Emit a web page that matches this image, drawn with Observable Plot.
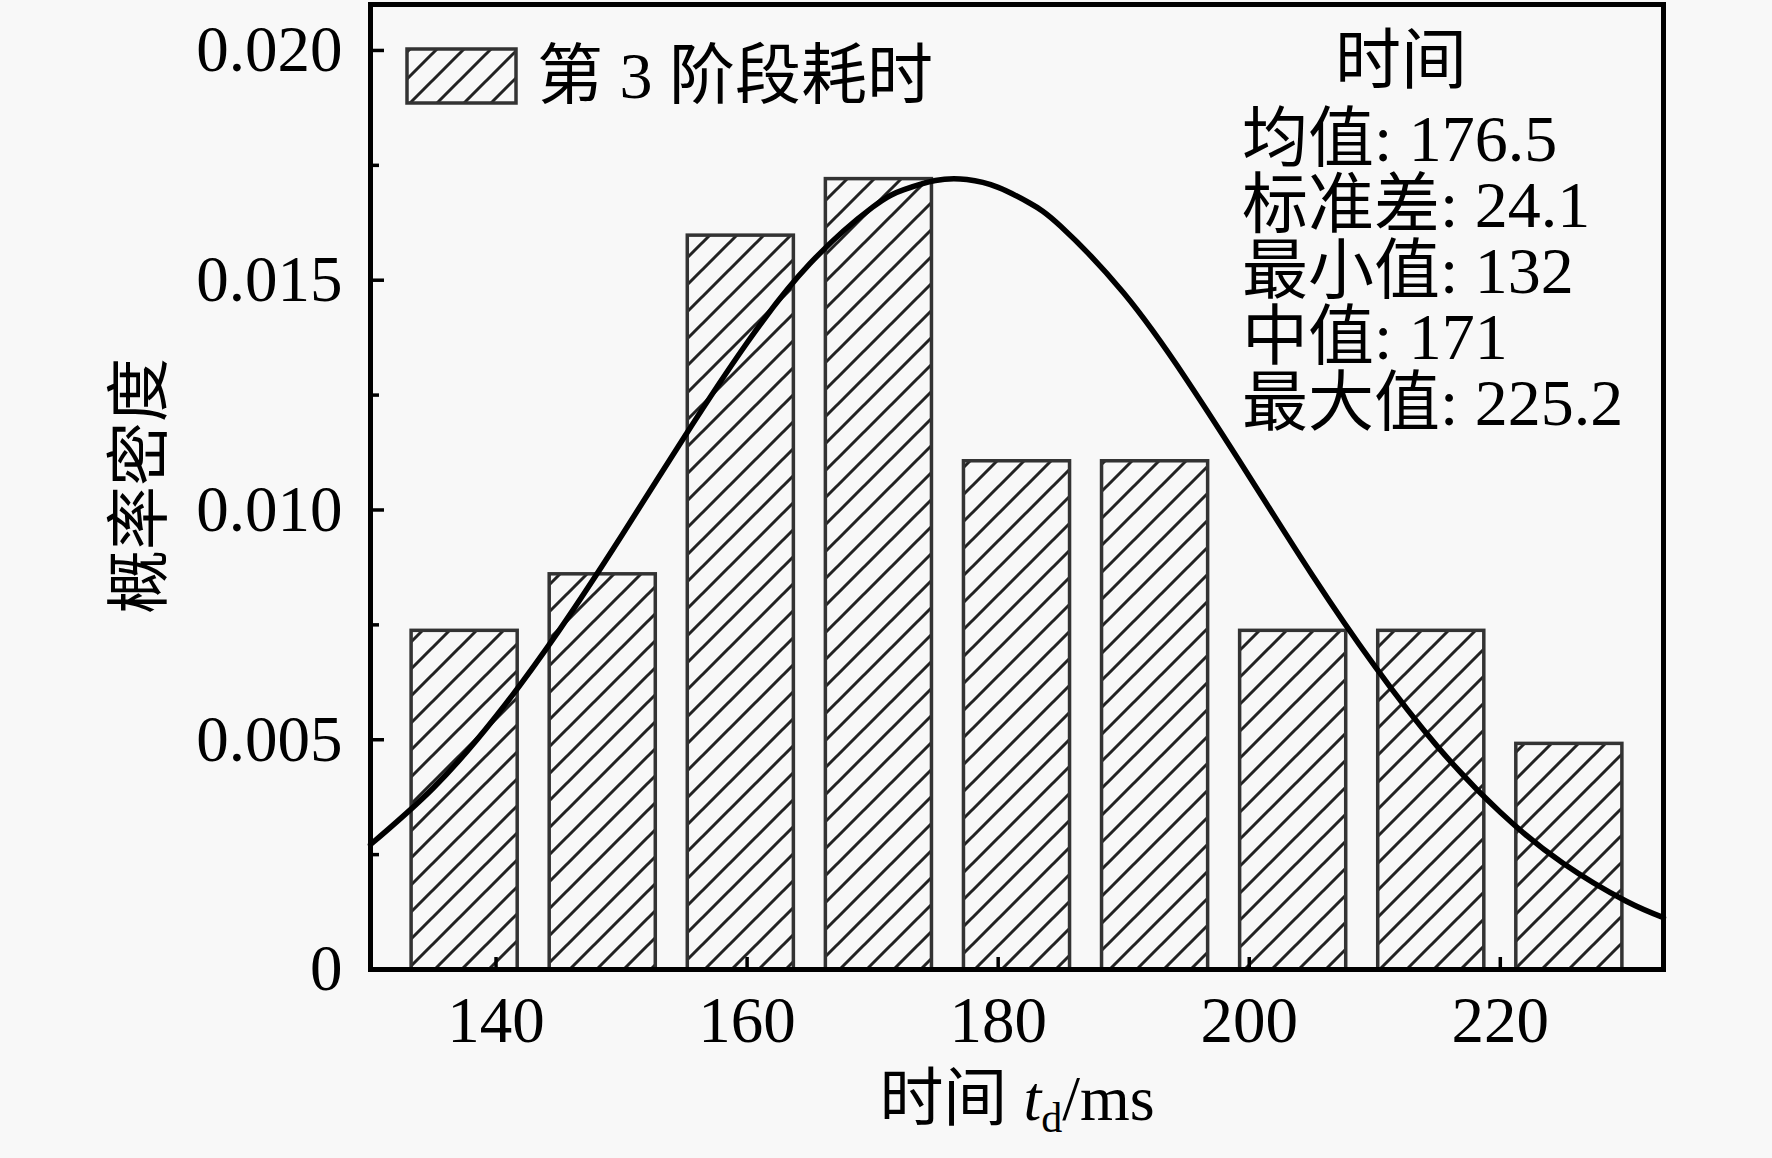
<!DOCTYPE html>
<html>
<head>
<meta charset="utf-8">
<script src="https://cdn.jsdelivr.net/npm/d3@7"></script>
<script src="https://cdn.jsdelivr.net/npm/@observablehq/plot@0.6"></script>
<style>
  html, body { margin: 0; padding: 0; background: #f8f8f8; }
  #chart { width: 1772px; height: 1158px; }
</style>
</head>
<body>
<div id="chart"></div>
<script>
// ---- data ----
const binStart = [132, 143, 154, 165, 176, 187, 198, 209, 220];
const binEnd   = [143, 154, 165, 176, 187, 198, 209, 220, 231];
const density  = [0.00737, 0.0086, 0.01597, 0.0172, 0.01106, 0.01106, 0.00737, 0.00737, 0.00491];

// fitted normal curve
const curveX = [130, 135, 140, 145, 150, 155, 160, 165, 170, 172.5, 175, 177.5, 180, 182.5, 185, 190, 195, 200, 205, 210, 215, 220, 225, 230, 233];
const curveY = [0.00272, 0.00395, 0.00551, 0.00737, 0.00944, 0.01159, 0.01364, 0.01536, 0.01659, 0.01697, 0.01717, 0.01719, 0.01702, 0.01668, 0.01617, 0.01472, 0.01284, 0.01073, 0.00859, 0.0066, 0.00485, 0.00342, 0.00231, 0.00149, 0.00113];

const xTicks = [140, 160, 180, 200, 220];
const yTicks = [0, 0.005, 0.010, 0.015, 0.020];
const yTickLabels = ["0", "0.005", "0.010", "0.015", "0.020"];
const yMinorTicks = [0.0025, 0.0075, 0.0125, 0.0175];

const legendLabel = "第 3 阶段耗时";
const statsTitle = "时间";
const statsLines = ["均值: 176.5", "标准差: 24.1", "最小值: 132", "中值: 171", "最大值: 225.2"];
const yLabel = "概率密度";

const bins = binStart.map((s, i) => ({x1: s, x2: binEnd[i], y: density[i]}));
const curve = curveX.map((x, i) => ({x, y: curveY[i]}));

const FONT = "'Liberation Serif', 'Noto Sans CJK SC', serif";

const chart = Plot.plot({
  width: 1772,
  height: 1158,
  marginLeft: 370,
  marginRight: 109,
  marginTop: 4,
  marginBottom: 189,
  style: {fontFamily: FONT, fontSize: "64px", background: "#f8f8f8", color: "black"},
  x: {domain: [130, 233]},
  y: {domain: [0, 0.021]},
  marks: [
    Plot.rectY(bins, {x1: "x1", x2: "x2", y: "y", insetLeft: 16, insetRight: 16,
      fill: "url(#hatch)", stroke: "#333", strokeWidth: 3.5}),
    Plot.line(curve, {x: "x", y: "y", curve: "natural", stroke: "black", strokeWidth: 5.5}),
    Plot.axisX({ticks: xTicks, tickSize: -12, tickPadding: 38, strokeWidth: 3.5, label: null,
      fontSize: 65, tickFormat: d => String(d)}),
    Plot.axisY({ticks: yTicks, tickSize: -14, tickPadding: 42, strokeWidth: 3.5, label: null,
      fontSize: 65, tickFormat: d => yTickLabels[yTicks.indexOf(d)]}),
    Plot.axisY({ticks: yMinorTicks, tickSize: -9, strokeWidth: 3.5, label: null, tickFormat: () => ""}),
    Plot.frame({stroke: "black", strokeWidth: 5})
  ]
});

document.getElementById("chart").appendChild(chart);

const svg = d3.select(chart);
const defs = svg.insert("defs", ":first-child");
const pat = defs.append("pattern")
  .attr("id", "hatch")
  .attr("patternUnits", "userSpaceOnUse")
  .attr("width", 27).attr("height", 27);
pat.append("rect").attr("width", 27).attr("height", 27).attr("fill", "#f8f8f8");
pat.append("path")
  .attr("d", "M0,27 L27,0 M-6.75,6.75 L6.75,-6.75 M20.25,33.75 L33.75,20.25")
  .attr("stroke", "#222").attr("stroke-width", 3);

// legend
const lg = svg.append("g");
lg.append("rect").attr("x", 407).attr("y", 49).attr("width", 109).attr("height", 54)
  .attr("fill", "url(#hatch)").attr("stroke", "#333").attr("stroke-width", 3.5);
lg.append("text").attr("x", 537).attr("y", 98).attr("text-anchor", "start")
  .attr("font-family", FONT).attr("font-size", 66).attr("fill", "black")
  .text(legendLabel);

// statistics box text
const st = svg.append("g").attr("font-family", FONT).attr("font-size", 66).attr("fill", "black");
st.append("text").attr("x", 1401).attr("y", 83).attr("text-anchor", "middle").text(statsTitle);
statsLines.forEach((s, i) => {
  st.append("text").attr("x", 1242).attr("y", 161 + 66 * i).attr("text-anchor", "start").text(s);
});

// y axis label
svg.append("text")
  .attr("transform", "translate(161,486) rotate(-90)")
  .attr("text-anchor", "middle")
  .attr("font-family", "'Noto Sans CJK SC', sans-serif").attr("font-size", 64).attr("fill", "black")
  .text(yLabel);

// x axis label with italic t and subscript d
const xl = svg.append("text").attr("x", 1017).attr("y", 1120).attr("text-anchor", "middle")
  .attr("font-family", FONT).attr("font-size", 64).attr("fill", "black");
xl.append("tspan").text("时间 ");
xl.append("tspan").attr("font-style", "italic").text("t");
xl.append("tspan").attr("font-size", 42).attr("dy", 12).text("d");
xl.append("tspan").attr("dy", -12).text("/ms");
</script>
</body>
</html>
